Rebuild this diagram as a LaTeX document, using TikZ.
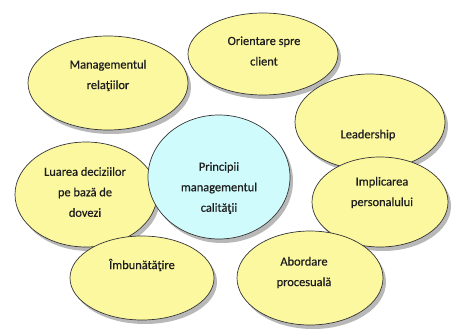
\documentclass[tikz,border=0pt]{standalone}
\usepackage{fontspec}
\setmainfont[FakeBold=0.6]{Carlito}
\usetikzlibrary{shapes.geometric,shadows}
\definecolor{petal}{HTML}{FCF8A0}
\definecolor{core}{HTML}{CFFBFD}
\definecolor{ink}{HTML}{1E1E1E}
\tikzset{
  blob/.style={ellipse, draw=ink!90, line width=0.7pt, inner sep=0pt,
    drop shadow={shadow xshift=3pt, shadow yshift=-4pt, fill=black!35, opacity=0.8}},
  petalshape/.style={blob, fill=petal},
  coreshape/.style={blob, fill=core},
  txt/.style={align=center, font=\fontsize{12.4}{20.5}\selectfont, text=ink, inner sep=0pt}
}
\begin{document}
\begin{tikzpicture}[x=1pt,y=1pt]
\useasboundingbox (0,0) rectangle (454,330);
% petals (px coords -> y = 330 - py)
\node[petalshape, minimum width=160pt, minimum height=94pt] (rel) at (108,247) {};
\node[petalshape, minimum width=150pt, minimum height=82pt] (ori) at (263,276) {};
\node[petalshape, minimum width=150pt, minimum height=96pt] (lead) at (370,208) {};
\node[petalshape, minimum width=136pt, minimum height=90pt] (impl) at (380,128) {};
\node[petalshape, minimum width=142pt, minimum height=105pt] (luar) at (86,135.5) {};
\node[petalshape, minimum width=144pt, minimum height=84pt] (imb) at (142,52) {};
\node[petalshape, minimum width=146pt, minimum height=94pt] (abo) at (310,52) {};
\node[coreshape, minimum width=142pt, minimum height=124pt] (core) at (219,153) {};
% texts
\node[txt] (trel) at (108,254.5) {Managementul\\relaţiilor};
\node[txt] (tori) at (264,279) {Orientare spre\\client};
\node[txt] (tlead) at (368,195) {Leadership};
\node[txt] (timpl) at (382,137.5) {Implicarea\\personalului};
\node[txt] (tluar) at (85,138) {Luarea deciziilor\\pe bază de\\dovezi};
\node[txt] (timb) at (142,65) {Îmbunătăţire};
\node[txt] (tabo) at (304,57.5) {Abordare\\procesuală};
\node[txt] (tcore) at (219,142) {Principii\\managementul\\calităţii};
\end{tikzpicture}
\end{document}
